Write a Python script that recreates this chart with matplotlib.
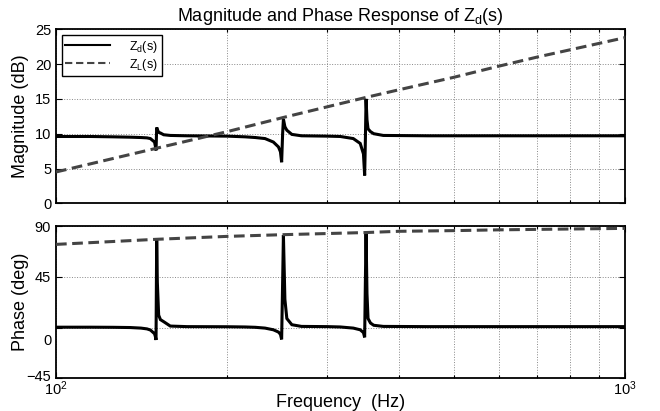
import matplotlib
matplotlib.use("Agg")
import matplotlib.pyplot as plt
from matplotlib.ticker import LogLocator, NullFormatter, FixedLocator
import matplotlib.transforms as mtransforms

plt.rcParams['font.family'] = ['Liberation Sans', 'DejaVu Sans']
plt.rcParams['mathtext.fontset'] = 'custom'
plt.rcParams['mathtext.rm'] = 'Liberation Sans'
plt.rcParams['mathtext.it'] = 'Liberation Sans'

# ---------------- data ----------------
# Z_d(s): frequency points (Hz)
zd_freq = [100, 115, 126, 135, 141, 144.5, 146.5, 147.5, 149.0, 149.5, 149.9,
           150.3, 150.7, 151.5, 152.6, 154.6, 158.8, 170, 200,
           215, 224, 233, 241, 246, 248, 249.2, 250.2, 251, 252.5, 254.5,
           259.7, 270, 300,
           316, 333, 342.5, 347, 348.7, 349.7, 350.7, 352, 353.5, 357,
           361.7, 376, 450, 700, 1000]
# Z_d magnitude (dB)
zd_mag = [9.6, 9.6, 9.55, 9.5, 9.45, 9.4, 9.3, 9.1, 8.8, 8.2, 7.6,
          10.9, 10.6, 10.2, 10.1, 9.85, 9.75, 9.7, 9.65,
          9.55, 9.45, 9.3, 8.8, 8.1, 7.4, 5.9, 10.0, 12.1, 11.0, 10.5,
          9.9, 9.7, 9.65,
          9.6, 9.3, 8.6, 7.1, 4.0, 9.0, 15.0, 12.0, 10.7, 10.3,
          10.0, 9.75, 9.7, 9.7, 9.7]
# Z_d phase (deg)
zd_phase = [0.3, 0.3, 0.2, 0.0, -0.5, -1.2, -2.2, -3.5, -5.5, -8.0, -11.0,
            78.4, 40.0, 11.0, 7.0, 5.2, 1.3, 0.8, 0.7,
            0.5, 0.2, -0.5, -2.0, -4.0, -6.0, -10.5, 40.0, 82.0, 25.0, 8.0,
            2.5, 1.0, 0.8,
            0.5, -0.5, -2.0, -4.5, -8.7, 40.0, 84.0, 30.0, 8.0, 4.0,
            2.0, 1.0, 0.8, 0.8, 0.8]

# Z_L(s)
zl_freq = [100, 150, 200, 250, 350, 400, 500, 600, 700, 1000]
zl_mag = [4.5, 7.9, 10.3, 12.3, 15.2, 16.3, 18.1, 19.7, 21.0, 23.8]
zl_phase = [73.7, 78.2, 80.8, 82.3, 84.2, 85.3, 85.9, 86.6, 87.0, 87.9]

title_text = r'Magnitude and Phase Response of Z$_{\mathregular{d}}$(s)'
legend_labels = [r'Z$_{\mathregular{d}}$(s)', r'Z$_{\mathregular{L}}$(s)']
mag_ticks = [0, 5, 10, 15, 20, 25]
phase_ticks = [-45, 0, 45, 90]

# ---------------- figure ----------------
fig = plt.figure(figsize=(6.6, 4.11), dpi=100)
ax1 = fig.add_axes([56 / 660, 1 - 203.3 / 411, 569 / 660, 174 / 411])
ax2 = fig.add_axes([56 / 660, 1 - 378.3 / 411, 569 / 660, 152.3 / 411])

zl_color = '#444444'
for ax, zd_y, zl_y in ((ax1, zd_mag, zl_mag), (ax2, zd_phase, zl_phase)):
    ax.semilogx(zd_freq, zd_y, color='black', lw=2.2, solid_joinstyle='miter',
                label=legend_labels[0], zorder=3)
    ax.semilogx(zl_freq, zl_y, color=zl_color, lw=2.2, dashes=(3.5, 1.8),
                label=legend_labels[1], zorder=3)
    ax.set_xlim(100, 1000)
    ax.xaxis.set_major_locator(LogLocator(base=10, numticks=5))
    ax.xaxis.set_minor_locator(LogLocator(base=10, subs=range(2, 10), numticks=20))
    ax.xaxis.set_minor_formatter(NullFormatter())
    ax.grid(True, which='both', axis='x', linestyle=':', color='#888888', lw=0.7)
    ax.grid(True, which='major', axis='y', linestyle=':', color='#888888', lw=0.7)
    ax.tick_params(which='both', direction='in', top=True, right=True,
                   labelsize=10.5, width=0.8, colors='black')
    ax.tick_params(which='major', length=4)
    ax.tick_params(which='minor', length=2.5)
    for sp in ax.spines.values():
        sp.set_linewidth(1.3)
        sp.set_color('black')

ax1.set_ylim(0, 25)
ax1.yaxis.set_major_locator(FixedLocator(mag_ticks))
ax1.tick_params(axis='x', which='both', labelbottom=False)
ax1.set_ylabel('Magnitude (dB)', fontsize=13)
ax1.yaxis.set_label_coords(-0.047, 0.5)
ax1.set_title(title_text, fontsize=13, pad=6)

leg = ax1.legend(loc='upper left', fontsize=9, handlelength=3.6,
                 handletextpad=1.5, borderpad=0.3, labelspacing=0.15,
                 fancybox=False, framealpha=1, borderaxespad=0.45)
leg.get_frame().set_edgecolor('black')
leg.get_frame().set_linewidth(1.0)
for line in leg.get_lines():
    line.set_linewidth(1.5)

ax2.set_ylim(-45, 90)
ax2.yaxis.set_major_locator(FixedLocator(phase_ticks))
ax2.set_ylabel('Phase (deg)', fontsize=13)
ax2.yaxis.set_label_coords(-0.047, 0.5)
ax2.set_xlabel('Frequency  (Hz)', fontsize=13, labelpad=-3)
ax2.tick_params(axis='x', which='major', pad=1)

fig.canvas.draw()
# label offsets as seen in the reference ("0" sits lower, "-45" slightly higher)
for lbl in ax2.get_yticklabels():
    txt = lbl.get_text().replace('$\\mathdefault{', '').replace('}$', '')
    if txt == '0':
        lbl.set_transform(lbl.get_transform() +
                          mtransforms.ScaledTranslation(0, -12 / 100, fig.dpi_scale_trans))
    elif txt in ('-45', '\u221245'):
        lbl.set_transform(lbl.get_transform() +
                          mtransforms.ScaledTranslation(0, 3 / 100, fig.dpi_scale_trans))

fig.savefig('out.png', dpi=100)
